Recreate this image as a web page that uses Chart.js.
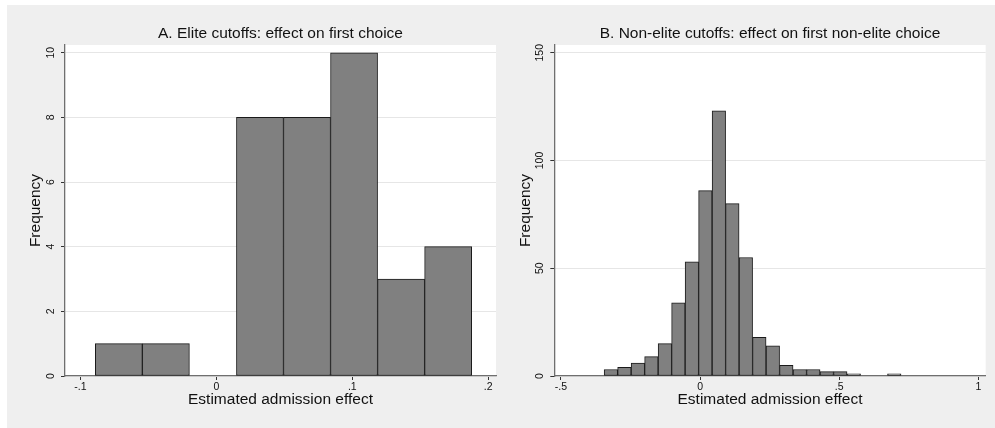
<!DOCTYPE html>
<html>
<head>
<meta charset="utf-8">
<script src="https://cdn.jsdelivr.net/npm/chart.js@4.4.0/dist/chart.umd.min.js"></script>
<style>
  body { margin: 0; background: #fff; width: 995px; height: 428px; overflow: hidden; position: relative; }
  #bg { position: absolute; left: 7px; top: 5px; width: 988px; height: 423px; background: #efefef; }
  canvas { position: absolute; top: 0; }
  #chartA { left: 0; }
  #chartB { left: 500px; }
</style>
</head>
<body>
<div id="bg"></div>
<canvas id="chartA" width="500" height="428"></canvas>
<canvas id="chartB" width="495" height="428"></canvas>
<script>
// panel A - elite cutoffs (histogram counts, equal-width bins)
var countsA = [1, 1, 0, 8, 8, 10, 3, 4];
var binStartA = -0.089;
var binWidthA = 0.0346;
var xTicksA = [-0.1, 0, 0.1, 0.2];
var xLabelsA = ['-.1', '0', '.1', '.2'];
var yTicksA = [0, 2, 4, 6, 8, 10];

// panel B - non-elite cutoffs
var countsB = [3, 4, 6, 9, 15, 34, 53, 86, 123, 80, 55, 18, 14, 5, 3, 3, 2, 2, 1, 0, 0, 1];
var binStartB = -0.3448;
var binWidthB = 0.0485;
var xTicksB = [-0.5, 0, 0.5, 1];
var xLabelsB = ['-.5', '0', '.5', '1'];
var yTicksB = [0, 50, 100, 150];

var FONT = '"Liberation Sans", Arial, Helvetica, sans-serif';
var TEXT = '#111';

var plotBg = {
  id: 'plotBg',
  beforeDraw: function(chart) {
    var a = chart.chartArea;
    var ctx = chart.ctx;
    ctx.save();
    ctx.fillStyle = '#fff';
    ctx.fillRect(a.left, a.top, a.right - a.left, a.bottom - a.top);
    ctx.restore();
  }
};

function makeHist(id, o) {
  var pts = o.counts.map(function(c, i) {
    return { x: o.start + o.width * (i + 0.5), y: c };
  });

  return new Chart(document.getElementById(id), {
    type: 'bar',
    data: {
      datasets: [{
        data: pts,
        backgroundColor: '#808080',
        borderColor: '#1a1a1a',
        borderWidth: 1,
        borderSkipped: false,
        barPercentage: 1,
        categoryPercentage: 1
      }]
    },
    options: {
      responsive: false,
      animation: false,
      layout: { padding: { left: 0, right: o.padRight, top: 0, bottom: 0 } },
      plugins: {
        legend: { display: false },
        tooltip: { enabled: false },
        title: {
          display: true,
          text: o.title,
          fullSize: false,
          color: TEXT,
          font: { family: FONT, size: 15.5, weight: 'normal', lineHeight: 1.2 },
          padding: { top: 24.7, bottom: 1.7 }
        }
      },
      scales: {
        x: {
          type: 'linear',
          offset: false,
          min: o.xMin,
          max: o.xMax,
          afterBuildTicks: function(s) {
            s.ticks = o.xTicks.map(function(v) { return { value: v }; });
          },
          afterFit: function(s) { s.height = 52; },
          ticks: {
            color: TEXT,
            font: { family: FONT, size: 10.5 },
            padding: 1,
            maxRotation: 0,
            autoSkip: false,
            callback: function(v) {
              var i = o.xTicks.indexOf(v);
              return i >= 0 ? o.xLabels[i] : '';
            }
          },
          grid: { offset: false, drawOnChartArea: false, drawTicks: true, tickLength: 4, tickColor: '#333' },
          border: { color: '#6f6f6f', width: 1.3 },
          title: {
            display: true,
            text: 'Estimated admission effect',
            color: TEXT,
            font: { family: FONT, size: 15.5, lineHeight: 1.2 },
            padding: { top: 0, bottom: 18.7 }
          }
        },
        y: {
          min: 0,
          max: o.yMax,
          afterBuildTicks: function(s) {
            s.ticks = o.yTicks.map(function(v) { return { value: v }; });
          },
          afterFit: function(s) { s.width = o.yWidth; },
          ticks: {
            color: TEXT,
            font: { family: FONT, size: 10.5 },
            minRotation: 90,
            maxRotation: 90,
            crossAlign: 'center',
            padding: o.yTickPad
          },
          grid: { color: '#e6e6e6', lineWidth: 1, drawTicks: true, tickLength: 4, tickColor: '#333' },
          border: { color: '#6f6f6f', width: 1.3 },
          title: {
            display: true,
            text: 'Frequency',
            color: TEXT,
            font: { family: FONT, size: 15.5, lineHeight: 1.2 },
            padding: { top: o.yTitlePad, bottom: 0 }
          }
        }
      }
    },
    plugins: [plotBg]
  });
}

makeHist('chartA', {
  counts: countsA, start: binStartA, width: binWidthA,
  title: 'A. Elite cutoffs: effect on first choice',
  xTicks: xTicksA, xLabels: xLabelsA, yTicks: yTicksA,
  xMin: -0.1113, xMax: 0.2057, yMax: 10.24,
  yWidth: 65, padRight: 4, yTitlePad: 26.2, yTickPad: 3.8
});

makeHist('chartB', {
  counts: countsB, start: binStartB, width: binWidthB,
  title: 'B. Non-elite cutoffs: effect on first non-elite choice',
  xTicks: xTicksB, xLabels: xLabelsB, yTicks: yTicksB,
  xMin: -0.524, xMax: 1.0266, yMax: 153.6,
  yWidth: 54.3, padRight: 9.3, yTitlePad: 16.2, yTickPad: 1.2
});
</script>
</body>
</html>
